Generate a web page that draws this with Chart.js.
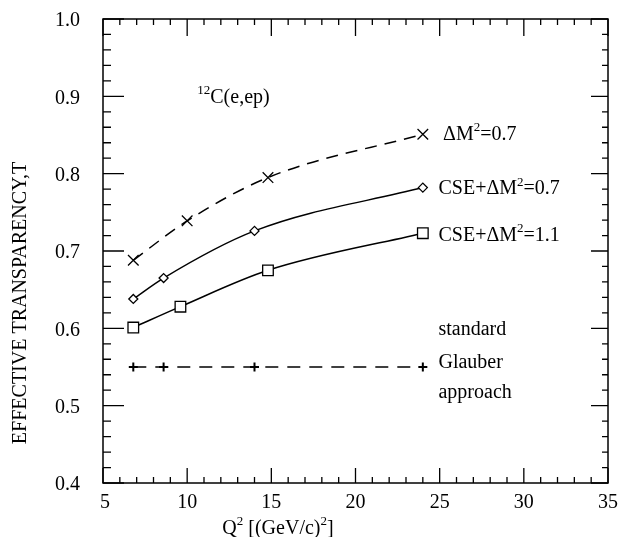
<!DOCTYPE html>
<html><head><meta charset="utf-8">
<script src="https://cdn.jsdelivr.net/npm/chart.js@4.4.1/dist/chart.umd.min.js"></script>
<style>html,body{margin:0;padding:0;background:#fff}canvas{display:block}</style>
</head><body>
<canvas id="c" width="626" height="537"></canvas>
<script>
// ---- data ----
const q2Cross   = [6.8, 10.0, 14.8, 24.0];
const tCross    = [0.688, 0.739, 0.795, 0.851];   // ΔM²=0.7 (dashed, ×)
const q2Diamond = [6.8, 8.6, 14.0, 24.0];
const tDiamond  = [0.638, 0.665, 0.726, 0.782];   // CSE+ΔM²=0.7 (solid, ◇)
const q2Square  = [6.8, 9.6, 14.8, 24.0];
const tSquare   = [0.601, 0.628, 0.675, 0.723];   // CSE+ΔM²=1.1 (solid, □)
const q2Glauber = [6.8, 8.6, 14.0, 24.0];
const tGlauber  = [0.55, 0.55, 0.55, 0.55];       // standard Glauber (dashed, +)

const xRange = [5, 35];
const yRange = [0.4, 1.0];
const xMajor = 5, xMinor = 1;
const yMajor = 0.1, yMinor = 0.02;
const xTickLabels = ["5","10","15","20","25","30","35"];
const yTickLabels = ["0.4","0.5","0.6","0.7","0.8","0.9","1.0"];

const xTitle = [["Q",0],["2",1],[" [(GeV/c)",0],["2",1],["]",0]];
const yTitle = "EFFECTIVE TRANSPARENCY,T";
const reactionLabel = [["12",1],["C(e,ep)",0]];
const seriesLabels = [
  [["ΔM",0],["2",1],["=0.7",0]],
  [["CSE+ΔM",0],["2",1],["=0.7",0]],
  [["CSE+ΔM",0],["2",1],["=1.1",0]],
  [["standard",0]],
  [["Glauber",0]],
  [["approach",0]]
];
// anchor (data coords) for each annotation
const reactionAt = [10.6, 0.898];
const labelAt = [[25.2,0.850],[24.93,0.780],[24.93,0.720],[24.93,0.598],[24.93,0.556],[24.93,0.517]];

const FONT = '"Liberation Serif","Times New Roman",serif';
const FS = 20, SFS = 13;

function pts(xs, ys){ return xs.map((x,i)=>({x:x, y:ys[i]})); }

function drawRich(ctx, segs, x, y, align){
  let w = 0;
  segs.forEach(s=>{ ctx.font = (s[1]?SFS:FS)+'px '+FONT; w += ctx.measureText(s[0]).width; });
  let cx = align==='center' ? x - w/2 : x;
  ctx.textBaseline = 'middle'; ctx.textAlign = 'left';
  segs.forEach(s=>{
    ctx.font = (s[1]?SFS:FS)+'px '+FONT;
    ctx.fillText(s[0], cx, s[1] ? y-7 : y);
    cx += ctx.measureText(s[0]).width;
  });
}

const isMult = (v, step) => Math.abs(v/step - Math.round(v/step)) < 1e-6;

const framePlugin = {
  id:'frame',
  afterDraw(chart){
    const ctx = chart.ctx, a = chart.chartArea, xs = chart.scales.x, ys = chart.scales.y;
    ctx.save();
    ctx.strokeStyle = '#000'; ctx.lineWidth = 1.5;
    ctx.strokeRect(a.left, a.top, a.right-a.left, a.bottom-a.top);
    ctx.lineWidth = 1.3;
    ctx.beginPath();
    const nx = Math.round((xRange[1]-xRange[0])/xMinor);
    for (let i=0;i<=nx;i++){
      const v = xRange[0] + i*xMinor, px = xs.getPixelForValue(v), maj = isMult(v,xMajor);
      ctx.moveTo(px, a.bottom); ctx.lineTo(px, a.bottom-(maj?15:6));
      ctx.moveTo(px, a.top); ctx.lineTo(px, a.top+(maj?17:6));
    }
    const ny = Math.round((yRange[1]-yRange[0])/yMinor);
    for (let i=0;i<=ny;i++){
      const v = yRange[0] + i*yMinor, py = ys.getPixelForValue(v), maj = isMult(v,yMajor);
      ctx.moveTo(a.left, py); ctx.lineTo(a.left+(maj?21:8), py);
      ctx.moveTo(a.right, py); ctx.lineTo(a.right-(maj?17:6), py);
    }
    ctx.stroke();

    ctx.fillStyle = '#000';
    ctx.font = FS+'px '+FONT;
    ctx.textBaseline = 'middle';
    ctx.textAlign = 'center';
    xTickLabels.forEach((t,i)=>{ ctx.fillText(t, xs.getPixelForValue(xRange[0]+i*xMajor)+ (i===0?2:0), a.bottom+20); });
    ctx.textAlign = 'right';
    yTickLabels.forEach((t,i)=>{ ctx.fillText(t, a.left-23, ys.getPixelForValue(yRange[0]+i*yMajor)+2); });

    drawRich(ctx, reactionLabel, xs.getPixelForValue(reactionAt[0]), ys.getPixelForValue(reactionAt[1]), 'left');
    seriesLabels.forEach((segs,i)=>{
      drawRich(ctx, segs, xs.getPixelForValue(labelAt[i][0]), ys.getPixelForValue(labelAt[i][1]), 'left');
    });
    // axis titles
    drawRich(ctx, xTitle, 278, 529, 'center');
    ctx.translate(21, 303); ctx.rotate(-Math.PI/2);
    ctx.font = FS+'px '+FONT; ctx.textAlign='center'; ctx.textBaseline='middle';
    ctx.fillText(yTitle, 0, 0);
    ctx.restore();
  }
};

const common = {borderColor:'#000', borderWidth:1.5, pointBorderColor:'#000', pointBackgroundColor:'#fff',
  pointBorderWidth:1.3, cubicInterpolationMode:'monotone', fill:false, showLine:true};

new Chart(document.getElementById('c'), {
  type:'scatter',
  data:{ datasets:[
    Object.assign({}, common, {label:'ΔM²=0.7', data:pts(q2Cross,tCross), borderDash:[12,8], pointStyle:'crossRot', pointRadius:7.5}),
    Object.assign({}, common, {label:'CSE+ΔM²=0.7', data:pts(q2Diamond,tDiamond), pointStyle:'rectRot', pointRadius:4.5}),
    Object.assign({}, common, {label:'CSE+ΔM²=1.1', data:pts(q2Square,tSquare), pointStyle:'rect', pointRadius:7.5}),
    Object.assign({}, common, {label:'standard Glauber', data:pts(q2Glauber,tGlauber), borderDash:[13,9], pointStyle:'cross', pointRadius:4.5, pointBorderWidth:2})
  ]},
  options:{
    responsive:false, animation:false, devicePixelRatio:1,
    layout:{padding:{left:0, top:19, right:18, bottom:0}},
    plugins:{legend:{display:false}, tooltip:{enabled:false}},
    scales:{
      x:{type:'linear', min:xRange[0], max:xRange[1],
         grid:{display:false, drawTicks:false}, border:{display:false},
         ticks:{display:false, stepSize:xMajor},
         afterFit(s){ s.height = 54; }},
      y:{type:'linear', min:yRange[0], max:yRange[1],
         grid:{display:false, drawTicks:false}, border:{display:false},
         ticks:{display:false, stepSize:yMajor},
         afterFit(s){ s.width = 103; }}
    }
  },
  plugins:[framePlugin]
});
</script>
</body></html>
